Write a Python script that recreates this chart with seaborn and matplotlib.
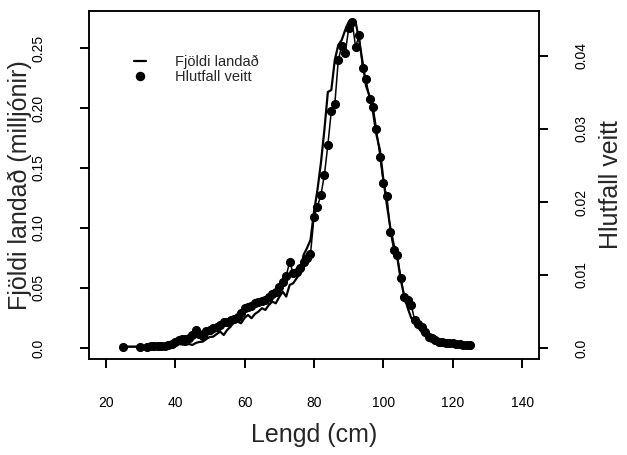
import matplotlib
matplotlib.use("Agg")
import matplotlib.pyplot as plt
from matplotlib.lines import Line2D
import seaborn as sns
import numpy as np

# length classes (cm)
lengd = [25, 30] + list(range(32, 126))

# landed numbers (millions), left axis
fjoldi_landad = [
    0.0011, 0.0011, 0.0013, 0.0013, 0.0013, 0.0014, 0.0017, 0.0021, 0.0021, 0.0025,
    0.0025, 0.0033, 0.0029, 0.0025, 0.0033, 0.0025, 0.0042, 0.0050, 0.0053, 0.0075,
    0.0092, 0.0094, 0.0117, 0.0136, 0.0108, 0.0150, 0.0178, 0.0217, 0.0219, 0.0206,
    0.0250, 0.0275, 0.0248, 0.0283, 0.0303, 0.0331, 0.0317, 0.0358, 0.0386, 0.0372,
    0.0425, 0.0469, 0.0428, 0.0525, 0.0539, 0.0581, 0.0625, 0.0775, 0.0833, 0.0900,
    0.1133, 0.1317, 0.1542, 0.1817, 0.2133, 0.2150, 0.2400, 0.2525, 0.2567, 0.2650,
    0.2717, 0.2733, 0.2717, 0.2567, 0.2383, 0.2183, 0.2100, 0.1967, 0.1775, 0.1650,
    0.1400, 0.1192, 0.1000, 0.0858, 0.0750, 0.0567, 0.0433, 0.0333, 0.0250, 0.0217,
    0.0175, 0.0133, 0.0100, 0.0075, 0.0058, 0.0050, 0.0042, 0.0033, 0.0029, 0.0025,
    0.0021, 0.0017, 0.0017, 0.0017, 0.0013, 0.0013,
]

# proportion caught, right axis
hlutfall_veitt = [
    0.00018, 0.00018, 0.00018, 0.00021, 0.00021, 0.00023, 0.00027, 0.00032, 0.00041, 0.00055,
    0.00075, 0.00103, 0.00119, 0.00123, 0.00141, 0.00178, 0.00247, 0.00192, 0.00164, 0.00233,
    0.00247, 0.00274, 0.00292, 0.00315, 0.00352, 0.00356, 0.00384, 0.00393, 0.00425, 0.00479,
    0.00544, 0.00562, 0.00575, 0.00616, 0.00630, 0.00644, 0.00658, 0.00699, 0.00740, 0.00767,
    0.00836, 0.00908, 0.00986, 0.01182, 0.01023, 0.01041, 0.01092, 0.01178, 0.01233, 0.01288,
    0.01790, 0.01936, 0.02096, 0.02370, 0.02781, 0.03251, 0.03338, 0.03945, 0.04137, 0.04037,
    0.04379, 0.04470, 0.04119, 0.04288, 0.03832, 0.03685, 0.03407, 0.03305, 0.03000, 0.02621,
    0.02256, 0.02086, 0.01593, 0.01342, 0.01274, 0.00963, 0.00703, 0.00658, 0.00589, 0.00384,
    0.00329, 0.00292, 0.00223, 0.00155, 0.00133, 0.00110, 0.00086, 0.00075, 0.00064, 0.00064,
    0.00062, 0.00055, 0.00048, 0.00041, 0.00041, 0.00041,
]

x_ticks = [20, 40, 60, 80, 100, 120, 140]
left_ticks = [0.0, 0.05, 0.10, 0.15, 0.20, 0.25]
left_labels = ["0.0", "0.05", "0.10", "0.15", "0.20", "0.25"]
right_ticks = [0.0, 0.01, 0.02, 0.03, 0.04]
right_labels = ["0.0", "0.01", "0.02", "0.03", "0.04"]

sns.set_theme(style="ticks")
plt.rcParams["font.family"] = ["Liberation Sans", "DejaVu Sans"]

fig = plt.figure(figsize=(6.27, 4.55), dpi=100)
ax = fig.add_axes([0.1419, 0.2110, 0.7177, 0.7648])
ax2 = ax.twinx()

sns.lineplot(x=lengd, y=fjoldi_landad, ax=ax, color="black", linewidth=1.6)
sns.lineplot(x=lengd, y=hlutfall_veitt, ax=ax2, color="black", linewidth=1.1,
             marker="o", markersize=5.8, markeredgecolor="black")

ax.set_xlim(15.2, 144.8)
ax.set_ylim(-0.0092, 0.2808)
ax2.set_ylim(-0.00151, 0.04616)

ax.set_xticks(x_ticks, labels=[str(v) for v in x_ticks])
ax.set_yticks(left_ticks, labels=left_labels)
ax2.set_yticks(right_ticks, labels=right_labels)

for a in (ax, ax2):
    for s in a.spines.values():
        s.set_visible(True)
        s.set_color("black")
        s.set_linewidth(1.1)
    a.grid(False)

ax.tick_params(axis="both", direction="out", length=6.5, width=1.4, color="black",
               labelsize=10, labelcolor="black")
ax.tick_params(axis="x", pad=20)
ax.tick_params(axis="y", pad=25, labelrotation=90)
ax2.tick_params(axis="y", direction="out", length=6.5, width=1.4, color="black",
                labelsize=10, labelcolor="black", pad=19, labelrotation=90)
for lab in ax.get_yticklabels() + ax2.get_yticklabels():
    lab.set_va("center")

ax.set_xlabel("Lengd (cm)", fontsize=18)
ax.xaxis.set_label_coords(0.5, -0.218)
ax.xaxis.label.set_va("center")
ax.set_ylabel("Fjöldi landað (milljónir)", fontsize=18)
ax.yaxis.set_label_coords(-0.154, 0.5)
ax.yaxis.label.set_va("center")
ax2.set_ylabel("Hlutfall veitt", fontsize=18, rotation=90)
ax2.yaxis.set_label_coords(1.161, 0.5)
ax2.yaxis.label.set_va("center")

handles = [
    Line2D([], [], color="black", linewidth=1.6),
    Line2D([], [], color="black", linestyle="none", marker="o", markersize=5.8),
]
ax2.legend(handles, ["Fjöldi landað", "Hlutfall veitt"], loc="upper left",
           bbox_to_anchor=(0.1, 0.874), frameon=False, fontsize=10.5,
           handlelength=0.8, handletextpad=2.0, labelspacing=0.05,
           borderpad=0, borderaxespad=0)

fig.savefig("out.png", dpi=100)
